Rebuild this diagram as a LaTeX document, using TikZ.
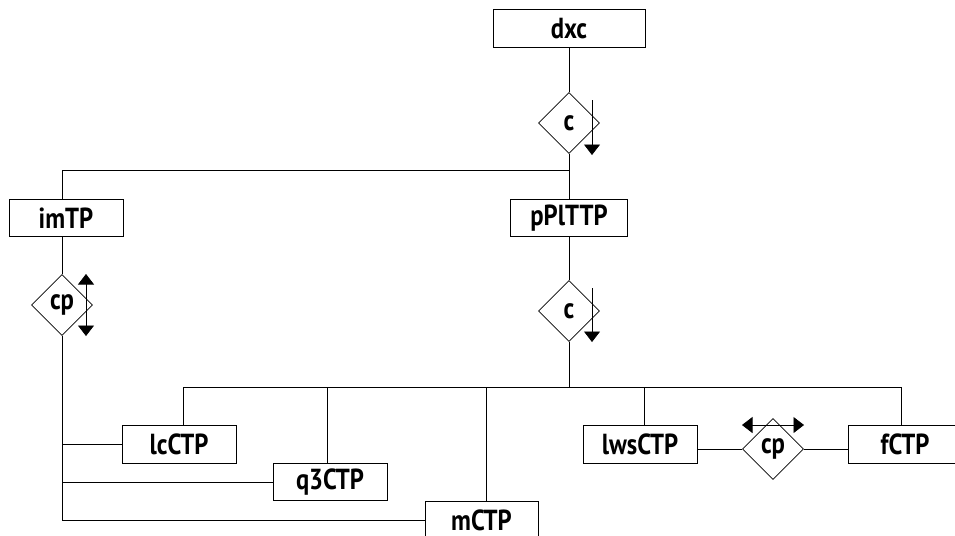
\documentclass[tikz,border=0pt]{standalone}
\usepackage{fontspec}
\setmainfont{PT Sans}[FakeStretch=0.85]
\usetikzlibrary{arrows.meta,shapes.geometric}

\begin{document}
\begin{tikzpicture}[x=0.02cm, y=-0.02cm, >={Triangle[length=0.21cm,width=0.32cm]},
  box/.style={draw, minimum height=0.75cm, inner sep=0pt,
    font=\bfseries\fontsize{16.5}{18}\selectfont},
  dia/.style={draw, diamond, minimum width=1.22cm, minimum height=1.22cm,
    inner sep=0pt, font=\bfseries\fontsize{16.5}{18}\selectfont}]
  \useasboundingbox (0,0) rectangle (955,535);

  % boxes
  \node[box, minimum width=3.04cm] (dxc) at (569,28.5) {dxc};
  \node[box, minimum width=2.28cm] (imtp) at (66,218) {imTP};
  \node[box, minimum width=2.34cm] (pplttp) at (569,218) {pPlTTP};
  \node[box, minimum width=2.28cm] (lcctp) at (179,444.5) {lcCTP};
  \node[box, minimum width=2.28cm] (q3ctp) at (330,482) {q3CTP};
  \node[box, minimum width=2.26cm] (mctp) at (481.5,520) {mCTP};
  \node[box, minimum width=2.28cm] (lwsctp) at (640,444.5) {lwsCTP};
  \node[box, minimum width=2.28cm] (fctp) at (905,444.5) {fCTP};

  % diamonds
  \node[dia] (c1) at (569,123) {c};
  \node[dia] (cp1) at (62,305) {cp};
  \node[dia] (c2) at (569,311) {c};
  \node[dia] (cp2) at (773,449) {cp};

  % top part
  \coordinate (j1) at (569,170);
  \coordinate (j1l) at (62,170);
  \draw (dxc) -- (c1);
  \draw (c1.south) -- (j1) -- (pplttp.north);
  \draw (j1) -- (j1l) -- (imtp.north -| j1l);
  \draw (imtp.south -| cp1) -- (cp1.north);
  \draw (pplttp) -- (c2);

  % left branch
  \draw (cp1.south) -- (cp1 |- mctp) -- (mctp.west);
  \draw (cp1 |- lcctp) -- (lcctp.west);
  \draw (cp1 |- q3ctp) -- (q3ctp.west);

  % bus
  \coordinate (bus) at (569,387);
  \draw (c2.south) -- (bus);
  \draw (183,387) -- (901,387);
  \foreach \x/\n in {183/lcctp, 327/q3ctp, 486/mctp, 644/lwsctp, 901/fctp}{
    \coordinate (t) at (\x,387);
    \draw (t) -- (t |- \n.north);
  }
  \draw (lwsctp.east |- cp2) -- (cp2.west);
  \draw (cp2.east) -- (fctp.west |- cp2);

  % direction arrows
  \coordinate (a1) at (592,100);
  \coordinate (a1e) at (592,155);
  \draw[->] (a1) -- (a1e);
  \coordinate (a2) at (592,288);
  \coordinate (a2e) at (592,342);
  \draw[->] (a2) -- (a2e);
  \coordinate (a3) at (86,274);
  \coordinate (a3e) at (86,336);
  \draw[<->] (a3) -- (a3e);
  \coordinate (a4) at (742,425);
  \coordinate (a4e) at (804,425);
  \draw[<->] (a4) -- (a4e);
\end{tikzpicture}
\end{document}
